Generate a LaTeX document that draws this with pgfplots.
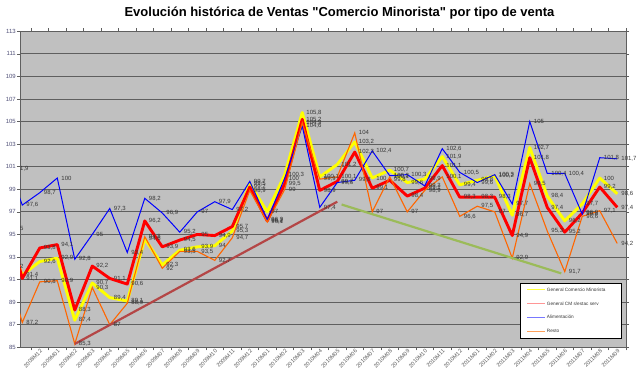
\documentclass[border=0pt]{standalone}
\usepackage{fontspec}
\setmainfont{Liberation Sans}[Ligatures=TeXOff]
\usepackage{pgfplots}
\pgfplotsset{compat=1.18}
\usepackage{pgfplotstable}

\definecolor{plotbg}{RGB}{192,192,192}
\definecolor{gridc}{RGB}{95,95,95}
\definecolor{ylab}{RGB}{80,80,120}
\definecolor{xlab}{RGB}{90,90,90}
\definecolor{dlab}{RGB}{55,55,55}
\definecolor{cYellow}{RGB}{255,255,0}
\definecolor{cRed}{RGB}{255,0,0}
\definecolor{cBlue}{RGB}{0,0,255}
\definecolor{cOrange}{RGB}{255,102,0}
\definecolor{cBrown}{RGB}{180,70,70}
\definecolor{cGreen}{RGB}{155,187,89}

\pgfplotstableread{
k v
-1 95.5
0 91.4
1 92.6
2 92.9
3 87.4
4 90.7
5 89.4
6 89.1
7 94.6
8 92.3
9 93.6
10 93.9
11 94.0
12 95.3
13 99.5
14 97.0
15 100.3
16 105.8
17 100.1
18 101.2
19 103.2
20 100.0
21 100.7
22 99.6
23 99.9
24 101.9
25 99.4
26 99.8
27 100.2
28 96.7
29 102.7
30 98.4
31 96.2
32 97.7
33 100.0
34 98.6
}\tYellow

\pgfplotstableread{
k v
-1 97.0
0 91.1
1 93.8
2 94.1
3 88.3
4 92.2
5 91.1
6 90.6
7 96.2
8 93.9
9 94.5
10 95.0
11 94.9
12 95.7
13 99.2
14 96.2
15 99.5
16 105.2
17 98.9
18 99.7
19 102.3
20 99.1
21 99.8
22 98.4
23 99.1
24 101.1
25 98.3
26 98.3
27 98.3
28 94.9
29 101.8
30 97.4
31 95.2
32 96.9
33 99.2
34 97.4
}\tRed

\pgfplotstableread{
k v
-1 101.9
0 97.6
1 98.7
2 100.0
3 92.8
4 95.0
5 97.3
6 93.4
7 98.2
8 96.9
9 95.2
10 97.0
11 97.9
12 97.2
13 99.7
14 96.3
15 100.0
16 104.6
17 97.4
18 99.6
19 99.8
20 102.4
21 100.2
22 100.3
23 99.3
24 102.6
25 100.5
26 99.6
27 100.3
28 97.7
29 105.0
30 100.4
31 100.4
32 96.8
33 101.8
34 101.7
}\tBlue

\pgfplotstableread{
k v
-1 92.5
0 87.2
1 90.8
2 90.9
3 85.3
4 90.3
5 87.0
6 88.9
7 94.8
8 92.0
9 93.5
10 93.5
11 92.7
12 94.7
13 98.9
14 96.1
15 99.0
16 104.9
17 99.9
18 100.1
19 104.0
20 97.0
21 100.1
22 97.0
23 98.9
24 100.1
25 96.6
26 97.5
27 97.0
28 92.9
29 99.5
30 95.3
31 91.7
32 96.6
33 97.1
34 94.2
}\tOrange

\pgfplotsset{lbl/.style={draw=none, mark=none, forget plot,
  restrict x to domain=0:34, point meta=y,
  nodes near coords={\pgfmathprintnumber[use comma,fixed,precision=1]{\pgfplotspointmeta}},
  every node near coord/.append style={font=\fontsize{6}{7}\selectfont, text=dlab, anchor=west, inner sep=0pt, xshift=4pt}}}

\begin{document}
\begin{tikzpicture}
\path[use as bounding box] (0,0) rectangle (640pt,380pt);
\begin{axis}[
  at={(20pt,32.7pt)}, anchor=south west,
  scale only axis, width=606pt, height=316pt,
  xmin=-0.13, xmax=34.5, ymin=85, ymax=113,
  axis background/.style={fill=plotbg},
  ytick={85,87,...,113},
  ymajorgrids, grid style={draw=gridc, line width=0.9pt},
  axis line style={draw=gridc, line width=0.8pt},
  tick align=outside, major tick length=3pt,
  tick style={draw=gridc, line width=0.6pt},
  xtick={0.5,1.5,...,34.5},
  xticklabels={},
  extra x ticks={1,2,...,34},
  extra x tick labels={2008M12,2009M01,2009M02,2009M03,2009M04,2009M05,2009M06,2009M07,2009M08,2009M09,2009M10,2009M11,2009M12,2010M01,2010M02,2010M03,2010M04,2010M05,2010M06,2010M07,2010M08,2010M09,2010M10,2010M11,2010M12,2011M01,2011M02,2011M03,2011M04,2011M05,2011M06,2011M07,2011M08,2011M09},
  extra x tick style={major tick length=0pt, grid=none,
     xticklabel style={rotate=45, anchor=north east, font=\fontsize{5.6}{6}\selectfont, text=xlab, inner sep=1pt}},
  yticklabel style={font=\fontsize{6}{7}\selectfont, text=ylab, inner sep=1pt},
  /pgf/number format/assume math mode=true,
  legend style={at={(0.993,0.029)}, anchor=south east, draw=black, line width=0.6pt,
     fill=white, font=\fontsize{4.7}{5}\selectfont,
     inner xsep=7pt, inner ysep=4pt, row sep=9.5pt, column sep=2pt,
     nodes={inner sep=0pt, text height=3.4pt, text depth=1pt}},
  legend cell align=left,
]
\addplot[draw=cYellow, line width=2.9pt, line join=round, forget plot] table[x=k,y=v]{\tYellow};
\addplot[draw=cRed, line width=2.9pt, line join=round, forget plot] table[x=k,y=v]{\tRed};
\addplot[draw=cBlue, line width=1pt, forget plot] table[x=k,y=v]{\tBlue};
\addplot[draw=cOrange, line width=1.1pt, forget plot] table[x=k,y=v]{\tOrange};

\addlegendimage{line legend, draw={rgb,255:red,255;green,255;blue,60}, line width=0.9pt}
\addlegendentry{\textcolor{dlab}{General Comercio Minorista}\hspace*{9pt}}
\addlegendimage{line legend, draw={rgb,255:red,255;green,150;blue,150}, line width=0.9pt}
\addlegendentry{\textcolor{dlab}{General CM s/estac serv}}
\addlegendimage{line legend, draw={rgb,255:red,120;green,120;blue,255}, line width=0.9pt}
\addlegendentry{\textcolor{dlab}{Alimentación}}
\addlegendimage{line legend, draw={rgb,255:red,255;green,160;blue,90}, line width=0.9pt}
\addlegendentry{\textcolor{dlab}{Resto}}

\addplot[draw=cBrown, line width=2.2pt, forget plot] coordinates {(3,85.3) (18,97.9)};
\addplot[draw=cGreen, line width=2.2pt, forget plot] coordinates {(18.25,97.65) (30.8,91.55)};

\addplot[lbl] table[x=k,y=v]{\tYellow};
\addplot[lbl] table[x=k,y=v]{\tRed};
\addplot[lbl] table[x=k,y=v]{\tBlue};
\addplot[lbl] table[x=k,y=v]{\tOrange};
\end{axis}
\node[anchor=west, font=\fontsize{6}{7}\selectfont, text=dlab, inner sep=0pt] at (20pt,211.7pt) {1,9};
\node[anchor=west, font=\fontsize{6}{7}\selectfont, text=dlab, inner sep=0pt] at (20pt,151.5pt) {5};
\node[anchor=west, font=\fontsize{6}{7}\selectfont, text=dlab, inner sep=0pt] at (20pt,113.3pt) {2};
\node[anchor=base, font=\bfseries\fontsize{13}{15}\selectfont] at (339.5pt,363.4pt) {Evolución histórica de Ventas "Comercio Minorista" por tipo de venta};
\end{tikzpicture}
\end{document}
